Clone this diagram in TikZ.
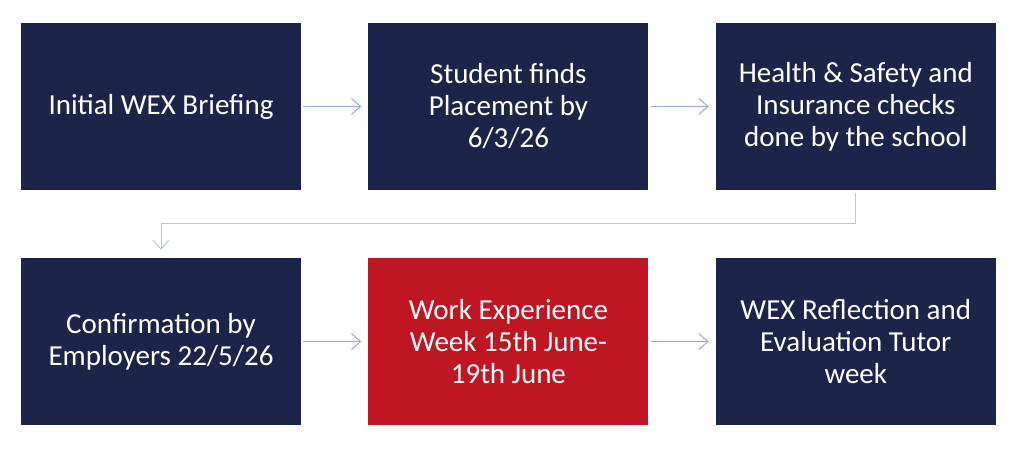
\documentclass[tikz,border=0pt]{standalone}
\usepackage{fontspec}
\setmainfont{Carlito}
\usepackage{xcolor}
\usetikzlibrary{arrows.meta, positioning}
\definecolor{wexnavy}{HTML}{1D2449}
\definecolor{wexred}{HTML}{BE1622}
\definecolor{wexarrow}{HTML}{8FAADC}
\definecolor{wexlink}{HTML}{B4C7E7}
\tikzset{
    stepbox/.style = {fill = wexnavy, text = white, minimum width = 280pt, minimum height = 167pt, inner sep = 0pt, align = center, font = \fontsize{29}{32}\selectfont},
    flow/.style = {draw = wexarrow, line width = 1pt, arrows = {-Straight Barb[length=9pt, width=16pt]}}
}

\begin{document}
\begin{tikzpicture}[x = 1pt, y = 1pt, node distance = 67pt]
        % Parametri
        \pgfmathsetmacro{\rowtop}{341.5}
        \pgfmathsetmacro{\rowbot}{106.5}
        \useasboundingbox (0,0) rectangle (1021,448);
        % Prima riga
        \coordinate (BriefC) at (161,\rowtop);
        \node[stepbox] (Brief) at (BriefC) {Initial WEX Briefing};
        \node[stepbox, right = of Brief] (Placement) {Student finds\\Placement by\\6/3/26};
        \node[stepbox, right = of Placement] (Checks) {Health \& Safety and\\Insurance checks\\done by the school};
        % Seconda riga
        \coordinate (ConfC) at (161,\rowbot);
        \node[stepbox] (Confirm) at (ConfC) {Confirmation by\\Employers 22/5/26};
        \node[stepbox, fill = wexred, right = of Confirm] (Week) {Work Experience\\Week 15th June-\\19th June};
        \node[stepbox, right = of Week] (Reflect) {WEX Reflection and\\Evaluation Tutor\\week};
        % Frecce
        \draw[flow] ([xshift=2pt]Brief.east) -- ([xshift=-7pt]Placement.west);
        \draw[flow] ([xshift=2pt]Placement.east) -- ([xshift=-7pt]Checks.west);
        \draw[flow] ([xshift=2pt]Confirm.east) -- ([xshift=-7pt]Week.west);
        \draw[flow] ([xshift=2pt]Week.east) -- ([xshift=-7pt]Reflect.west);
        \coordinate (Turn) at ([yshift=-33pt]Checks.south);
        \draw[flow, draw = wexlink] ([yshift=-3pt]Checks.south) -- (Turn) -| ([yshift=8pt]Confirm.north);
    \end{tikzpicture}
\end{document}
